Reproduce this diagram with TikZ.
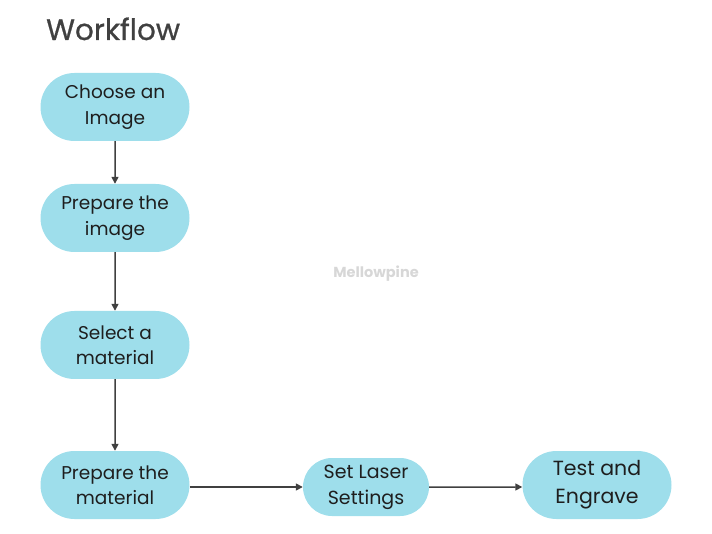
\documentclass[tikz,border=0pt]{standalone}
\usepackage{fontspec}
\setmainfont{Poppins}
\newfontfamily\titlefont[FakeBold=0.7]{Poppins}
\usetikzlibrary{shapes.misc,arrows.meta}
\definecolor{boxfill}{RGB}{158,222,235}
\definecolor{inkgray}{RGB}{64,64,64}
\definecolor{textdark}{RGB}{30,30,30}
\definecolor{markgray}{RGB}{215,215,215}
\tikzset{%
  stepnode/.style  = {shape=rounded rectangle, fill=boxfill, align=center,%
                      minimum width=149pt, minimum height=68pt, inner sep=0pt,%
                      text=textdark, font=\fontsize{18.5}{25.5}\selectfont},%
  smallstep/.style = {stepnode, minimum width=126pt, minimum height=58pt,%
                      font=\fontsize{19}{26}\selectfont},%
  bigstep/.style   = {stepnode, font=\fontsize{20.5}{28}\selectfont},%
  flowarrow/.style = {draw=inkgray, line width=1.5pt,%
                      -{Triangle[length=7pt,width=7pt]}}%
}
\begin{document}
\begin{tikzpicture}[x=1pt,y=-1pt]
	\useasboundingbox (0,0) rectangle (712,534);
	\node [anchor=base west, inner sep=0pt, text=inkgray,
	       font=\titlefont\fontsize{29.5}{34}\selectfont] (title) at (46,40) {Workflow};
	\node [font=\bfseries\fontsize{14.5}{16}\selectfont, text=markgray] (mark) at (376,274) {Mellowpine};
		\node [stepnode] (choose) at (115,107) {Choose an\\Image};
		\node [stepnode] (prepimg) at (115,218) {Prepare the\\image};
		\node [stepnode] (select) at (115,345) {Select a\\material};
		\node [stepnode] (prepmat) at (115,485) {Prepare the\\material};
		\node [smallstep] (laser) at (366,487) {Set Laser\\Settings};
		\node [bigstep] (engrave) at (597,485) {Test and\\Engrave};
	\draw [flowarrow] (choose) -- (prepimg);
	\draw [flowarrow] (prepimg) -- (select);
	\draw [flowarrow] (select) -- (prepmat);
	\draw [flowarrow] (prepmat.east |- laser) -- (laser);
	\draw [flowarrow] (laser) -- (engrave.west |- laser);
\end{tikzpicture}
\end{document}
